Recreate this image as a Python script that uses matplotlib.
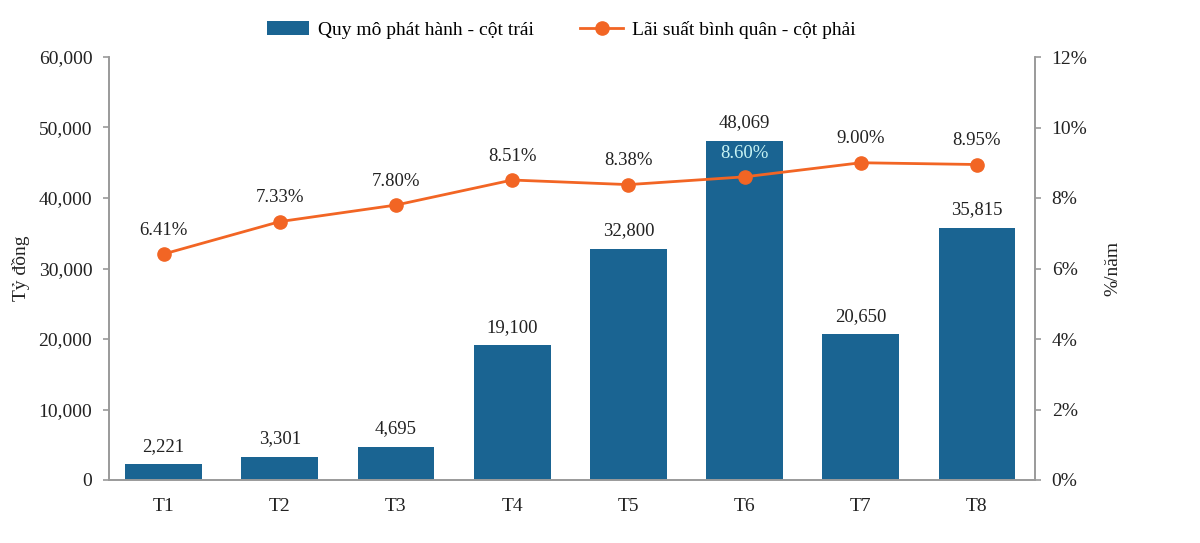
import matplotlib
matplotlib.use("Agg")
import matplotlib.pyplot as plt
from matplotlib.ticker import FuncFormatter, MultipleLocator

months = ["T1", "T2", "T3", "T4", "T5", "T6", "T7", "T8"]
volume = [2221, 3301, 4695, 19100, 32800, 48069, 20650, 35815]
rate = [6.41, 7.33, 7.80, 8.51, 8.38, 8.60, 9.00, 8.95]

plt.rcParams['font.family'] = ['Liberation Serif', 'DejaVu Serif']
BAR = "#1a6492"
LINE = "#f26524"
GRID = "#9a9a9a"
TXT = "#222222"

fig = plt.figure(figsize=(12, 5.43), dpi=100)
ax = fig.add_axes([109 / 1200, 1 - 480 / 543, (1035 - 109) / 1200, (480 - 57) / 543])
ax2 = ax.twinx()

x = list(range(len(months)))
ax.bar(x, volume, width=0.66, color=BAR, label="Quy mô phát hành - cột trái", zorder=2)
ax.set_ylim(0, 60000)
ax.set_xlim(-0.47, 7.5)
ax.yaxis.set_major_locator(MultipleLocator(10000))
ax.yaxis.set_major_formatter(FuncFormatter(lambda v, p: f"{int(v):,}"))
ax.set_xticks(x)
ax.set_xticklabels(months)
for xi, v in zip(x, volume):
    ax.annotate(f"{v:,}", (xi, v), xytext=(0, 7), textcoords="offset points",
                ha="center", va="bottom", fontsize=13.5, color=TXT)

ax2.plot(x, rate, color=LINE, lw=2, marker="o", ms=9.5, label="Lãi suất bình quân - cột phải", zorder=3)
ax2.set_ylim(0, 12)
ax2.yaxis.set_major_locator(MultipleLocator(2))
ax2.yaxis.set_major_formatter(FuncFormatter(lambda v, p: f"{int(v)}%"))
for xi, r in zip(x, rate):
    col = "#c8f4f4" if xi == 5 else TXT
    ax2.annotate(f"{r:.2f}%", (xi, r), xytext=(0, 11), textcoords="offset points",
                 ha="center", va="bottom", fontsize=13.5, color=col)

for a in (ax, ax2):
    a.spines["top"].set_visible(False)
    for s in ("left", "right", "bottom"):
        a.spines[s].set_color(GRID)
        a.spines[s].set_linewidth(1.2)
    a.tick_params(axis="y", length=4, width=1.2, color=GRID, labelsize=14, labelcolor=TXT, pad=8)
ax.tick_params(axis="x", length=0, labelsize=14, pad=13, labelcolor=TXT)
ax.set_ylabel("Tỷ đồng", fontsize=14, labelpad=6, color=TXT)
ax2.set_ylabel("%/năm", fontsize=14, labelpad=12, color=TXT)

h1, l1 = ax.get_legend_handles_labels()
h2, l2 = ax2.get_legend_handles_labels()
fig.legend(h1 + h2, l1 + l2, loc="upper center", bbox_to_anchor=(0.4675, 0.994), ncol=2,
           frameon=False, fontsize=14, handlelength=2.2, handleheight=0.67,
           handletextpad=0.45, columnspacing=2.37)

fig.savefig("out.png", dpi=100)
